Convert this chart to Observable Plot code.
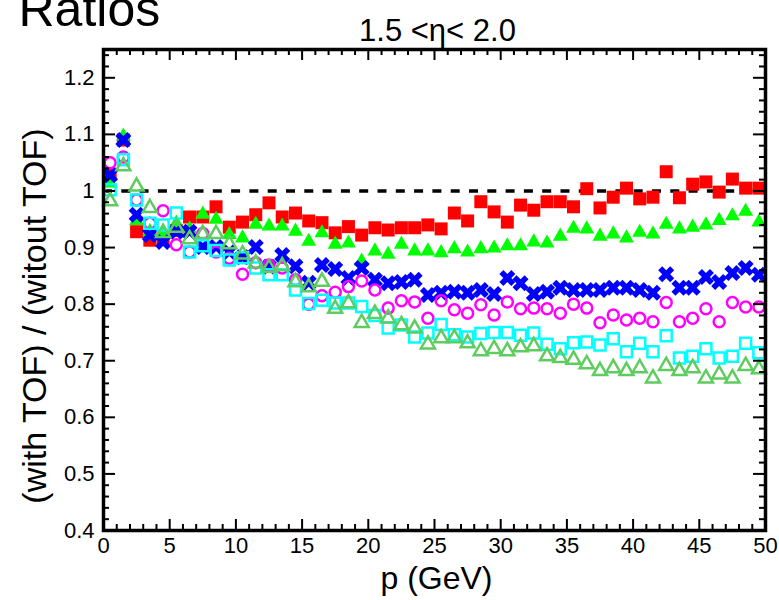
<!DOCTYPE html>
<html><head><meta charset="utf-8">
<script src="https://cdn.jsdelivr.net/npm/d3@7"></script>
<script src="https://cdn.jsdelivr.net/npm/@observablehq/plot@0.6"></script>
<style>
body{margin:0;background:#fff}
#chart{width:779px;height:600px;overflow:hidden}
</style>
</head><body><div id="chart"></div>
<script>
// ---- data ----
const p = [0.5,1.5,2.5,3.5,4.5,5.5,6.5,7.5,8.5,9.5,10.5,11.5,12.5,13.5,14.5,15.5,16.5,17.5,18.5,19.5,20.5,21.5,22.5,23.5,24.5,25.5,26.5,27.5,28.5,29.5,30.5,31.5,32.5,33.5,34.5,35.5,36.5,37.5,38.5,39.5,40.5,41.5,42.5,43.5,44.5,45.5,46.5,47.5,48.5,49.5];
const redSquares = [1.03,1.09,0.928,0.913,0.915,0.93,0.954,0.954,0.972,0.936,0.945,0.958,0.979,0.954,0.961,0.947,0.944,0.926,0.937,0.922,0.935,0.931,0.935,0.935,0.94,0.933,0.961,0.947,0.981,0.963,0.945,0.975,0.966,0.981,0.981,0.972,1.004,0.97,0.989,1.005,0.986,0.989,1.034,0.988,1.012,1.016,0.998,1.021,1.005,1.005];
const greenTriangles = [1.016,1.099,0.95,0.93,0.93,0.945,0.935,0.961,0.952,0.925,0.919,0.943,0.94,0.94,0.931,0.913,0.928,0.908,0.91,0.878,0.896,0.89,0.908,0.896,0.896,0.893,0.9,0.894,0.9,0.901,0.905,0.905,0.912,0.91,0.922,0.936,0.935,0.922,0.926,0.919,0.929,0.926,0.943,0.935,0.938,0.942,0.95,0.958,0.966,0.947];
const blueCrosses = [1.028,1.09,0.958,0.922,0.91,0.928,0.928,0.901,0.901,0.892,0.883,0.901,0.866,0.887,0.867,0.838,0.869,0.862,0.846,0.864,0.843,0.837,0.839,0.843,0.816,0.82,0.822,0.82,0.825,0.818,0.846,0.837,0.818,0.822,0.829,0.825,0.825,0.825,0.829,0.829,0.825,0.82,0.853,0.829,0.829,0.848,0.839,0.855,0.864,0.852];
const magentaCircles = [1.05,1.06,0.984,0.943,0.965,0.905,0.892,0.925,0.892,0.881,0.853,0.873,0.869,0.864,0.843,0.8,0.815,0.821,0.831,0.841,0.825,0.793,0.806,0.804,0.775,0.806,0.79,0.784,0.799,0.781,0.804,0.792,0.793,0.792,0.784,0.8,0.793,0.767,0.781,0.772,0.775,0.769,0.803,0.769,0.775,0.792,0.769,0.803,0.795,0.795];
const cyanSquares = [1.002,1.055,0.984,0.943,0.94,0.961,0.892,0.903,0.895,0.878,0.882,0.864,0.852,0.852,0.825,0.801,0.807,0.802,0.802,0.796,0.78,0.758,0.763,0.742,0.749,0.764,0.746,0.742,0.748,0.75,0.75,0.745,0.749,0.729,0.721,0.732,0.733,0.728,0.739,0.716,0.731,0.716,0.744,0.705,0.708,0.721,0.705,0.708,0.731,0.714];
const greenOpenTriangles = [0.984,1.046,1.01,0.972,0.928,0.937,0.917,0.926,0.926,0.908,0.89,0.874,0.866,0.869,0.841,0.832,0.842,0.794,0.804,0.769,0.785,0.777,0.765,0.759,0.731,0.742,0.742,0.733,0.719,0.723,0.719,0.726,0.728,0.71,0.707,0.704,0.696,0.684,0.689,0.684,0.689,0.671,0.693,0.684,0.689,0.671,0.678,0.671,0.693,0.687];
const xTicks = [0,5,10,15,20,25,30,35,40,45,50];
const xMinorTicks = [1,2,3,4,6,7,8,9,11,12,13,14,16,17,18,19,21,22,23,24,26,27,28,29,31,32,33,34,36,37,38,39,41,42,43,44,46,47,48,49];
const yTicks = [0.4,0.5,0.6,0.7,0.8,0.9,1.0,1.1,1.2];
const yMinorTicks = [0.42,0.44,0.46,0.48,0.52,0.54,0.56,0.58,0.62,0.64,0.66,0.68,0.72,0.74,0.76,0.78,0.82,0.84,0.86,0.88,0.92,0.94,0.96,0.98,1.02,1.04,1.06,1.08,1.12,1.14,1.16,1.18,1.22,1.24];
const referenceLine = [1];
const titleText = "Ratios";
const subtitleText = "1.5 <η< 2.0";
const xLabel = "p (GeV)";
const yLabel = "(with TOF) / (witout TOF)";

// ---- layout / style ----
const W = 779, H = 600, mL = 103, mR = 14, mT = 49, mB = 70;
const fW = W - mL - mR, fH = H - mT - mB;
const FONT = "Liberation Sans, Arial, Helvetica, sans-serif";

const rad = (size) => Math.sqrt(size / Math.PI);
const sqSym = {draw(c, s){const r = rad(s); c.moveTo(-r,-r); c.lineTo(r,-r); c.lineTo(r,r); c.lineTo(-r,r); c.closePath();}};
const triSym = {draw(c, s){const r = rad(s); c.moveTo(0,-r); c.lineTo(r,0.75*r); c.lineTo(-r,0.75*r); c.closePath();}};
const xSym = {draw(c, s){const r = rad(s), k = 0.5*r;
  const pts = [[-r,-r+k],[-r+k,-r],[0,-k],[r-k,-r],[r,-r+k],[k,0],[r,r-k],[r-k,r],[0,k],[-r+k,r],[-r,r-k],[-k,0]];
  c.moveTo(pts[0][0],pts[0][1]); for (const q of pts.slice(1)) c.lineTo(q[0],q[1]); c.closePath();}};
const circSym = {draw(c, s){const r = rad(s); c.moveTo(r,0); c.arc(0,0,r,0,2*Math.PI); c.closePath();}};

const series = [
  {values: redSquares, symbol: sqSym, r: 6.5, fill: "#ff0000", stroke: "none", sw: 0},
  {values: greenTriangles, symbol: triSym, r: 7.5, fill: "#00ff00", stroke: "none", sw: 0},
  {values: blueCrosses, symbol: xSym, r: 8, fill: "#0000ff", stroke: "none", sw: 0},
  {values: magentaCircles, symbol: circSym, r: 5.5, fill: "none", stroke: "#ff00ff", sw: 2.5},
  {values: cyanSquares, symbol: sqSym, r: 5.5, fill: "none", stroke: "#00ffff", sw: 2.5},
  {values: greenOpenTriangles, symbol: triSym, r: 7, fill: "none", stroke: "#5fcc5f", sw: 2.5}
];

const dotMarks = series.map(s => Plot.dot(p.map((x, i) => ({p: x, v: s.values[i]})), {
  x: "p", y: "v", symbol: () => s.symbol, r: s.r, fill: s.fill, stroke: s.stroke, strokeWidth: s.sw
}));

const tickStyle = {stroke: "black", strokeWidth: 2};
const chart = Plot.plot({
  width: W, height: H,
  marginLeft: mL, marginRight: mR, marginTop: mT, marginBottom: mB,
  style: {fontFamily: FONT, background: "white", color: "black"},
  x: {domain: [0, 50]},
  y: {domain: [0.4, 1.25]},
  symbol: {type: "identity"},
  marks: [
    Plot.ruleY(referenceLine, {y: d => d, stroke: "black", strokeWidth: 3.5, strokeDasharray: "9,9.3"}),
    ...dotMarks,
    // inward ticks
    Plot.tickX(xTicks, {x: d => d, ...tickStyle, insetTop: fH - 11}),
    Plot.tickX(xTicks, {x: d => d, ...tickStyle, insetBottom: fH - 11}),
    Plot.tickX(xMinorTicks, {x: d => d, ...tickStyle, insetTop: fH - 6}),
    Plot.tickX(xMinorTicks, {x: d => d, ...tickStyle, insetBottom: fH - 6}),
    Plot.tickY(yTicks, {y: d => d, ...tickStyle, insetRight: fW - 12}),
    Plot.tickY(yTicks, {y: d => d, ...tickStyle, insetLeft: fW - 12}),
    Plot.tickY(yMinorTicks, {y: d => d, ...tickStyle, insetRight: fW - 6}),
    Plot.tickY(yMinorTicks, {y: d => d, ...tickStyle, insetLeft: fW - 6}),
    Plot.frame({stroke: "black", strokeWidth: 3.5}),
    Plot.axisX({ticks: xTicks, tickSize: 0, tickPadding: 7, fontSize: 22, label: null, tickFormat: d => String(d)}),
    Plot.axisY({ticks: yTicks, tickSize: 0, tickPadding: 9, fontSize: 22, label: null, tickFormat: d => String(+d.toFixed(1))}),
    Plot.text([titleText], {text: d => d, frameAnchor: "top-left", dx: -85, dy: -24, textAnchor: "start", lineAnchor: "bottom", fontSize: 50}),
    Plot.text([subtitleText], {text: d => d, frameAnchor: "top", dx: 3, dy: -9, textAnchor: "middle", lineAnchor: "bottom", fontSize: 31}),
    Plot.text([xLabel], {text: d => d, frameAnchor: "bottom", dx: 2, dy: 58, textAnchor: "middle", lineAnchor: "bottom", fontSize: 32}),
    Plot.text([yLabel], {text: d => d, frameAnchor: "left", dx: -58, dy: 26, rotate: -90, textAnchor: "middle", lineAnchor: "bottom", fontSize: 34})
  ]
});
document.getElementById("chart").appendChild(chart);
</script>
</body></html>
